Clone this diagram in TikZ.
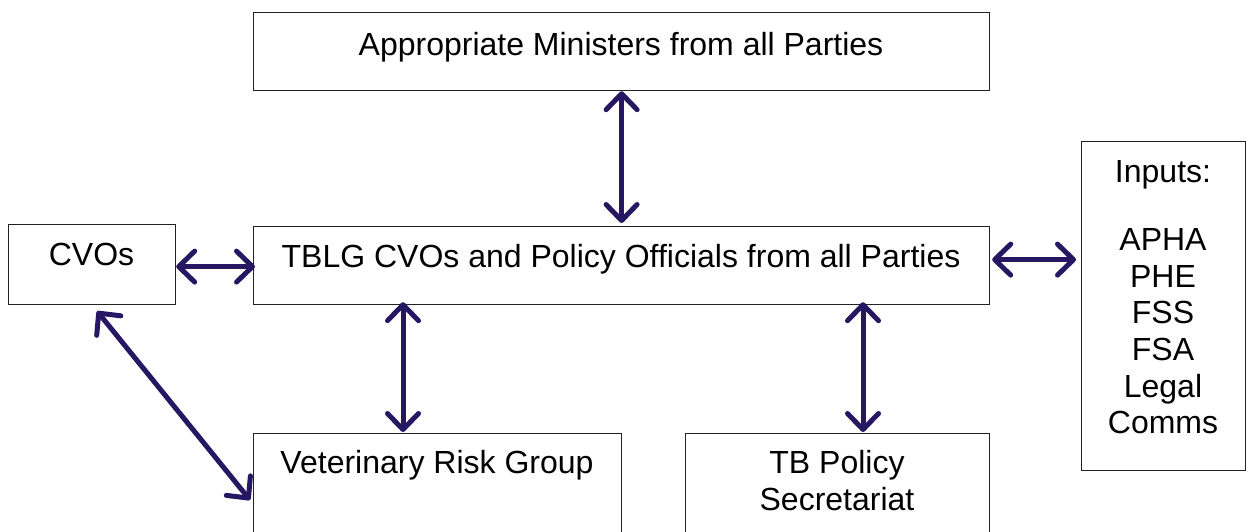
\documentclass[tikz,border=0pt]{standalone}
\usepackage{fontspec}
\setmainfont{Liberation Sans}
\usetikzlibrary{arrows.meta,calc}
\definecolor{arrowcol}{HTML}{261762}
\definecolor{boxcol}{HTML}{222222}
\tikzset{
  box/.style={draw=boxcol, line width=1.2pt, rectangle, inner sep=0pt, anchor=north west},
  txt/.style={inner sep=0pt, anchor=base, font=\fontsize{32}{36.7}\selectfont, text=black},
  biarrow/.style={draw=arrowcol, line width=5pt,
    {Straight Barb[length=16pt, width=31pt, round]}-{Straight Barb[length=16pt, width=31pt, round]}},
}
\begin{document}
\begin{tikzpicture}[x=1pt, y=-1pt]
\useasboundingbox (0,0) rectangle (1246,531);
\clip (0,0) rectangle (1246,531);
\fill[white] (0,0) rectangle (1246,531);

% boxes
\node[box, minimum width=736pt, minimum height=78pt] (min) at (253,12) {};
\node[box, minimum width=167pt, minimum height=80pt] (cvo) at (8,224) {};
\node[box, minimum width=736pt, minimum height=78pt] (tblg) at (253,226) {};
\node[box, minimum width=164pt, minimum height=329pt] (inp) at (1081,141) {};
\node[box, minimum width=368pt, minimum height=120pt] (vrg) at (253,433) {};
\node[box, minimum width=304pt, minimum height=120pt] (tbp) at (685,433) {};

% texts
\node[txt] (tmin) at (621,55) {Appropriate Ministers from all Parties};
\node[txt] (tcvo) at (91.5,265) {CVOs};
\node[txt] (ttblg) at (621,267) {TBLG CVOs and Policy Officials from all Parties};
\node[txt] (tvrg) at (437,473) {Veterinary Risk Group};
\node[txt] (ttbp1) at (837,473) {TB Policy};
\node[txt] (ttbp2) at (837,510) {Secretariat};
\node[txt] (ti0) at (1163,182) {Inputs:};
\node[txt] (ti1) at (1163,250) {APHA};
\node[txt] (ti2) at (1163,287) {PHE};
\node[txt] (ti3) at (1163,323) {FSS};
\node[txt] (ti4) at (1163,360) {FSA};
\node[txt] (ti5) at (1163,397) {Legal};
\node[txt] (ti6) at (1163,433) {Comms};

% connectors
\draw[biarrow] ($(min.south)+(0,0)$) -- ($(tblg.north)+(0,-3)$);
\draw[biarrow] ($(cvo.east)+(0,2)$) -- ($(cvo.east -| tblg.west)+(2,2)$);
\draw[biarrow] ($(tblg.east)+(2,-6)$) -- ($(tblg.east -| inp.west)+(-5,-6)$);
\draw[biarrow] ($(tblg.south west)+(150,-3)$) -- ($(vrg.north west)+(150,-1)$);
\draw[biarrow] ($(tbp.north west |- tblg.south)+(178,-3)$) -- ($(tbp.north west)+(178,-1)$);
\draw[biarrow] ($(cvo.south)+(5,6)$) -- ($(vrg.north west)+(-3,67)$);
\end{tikzpicture}
\end{document}
